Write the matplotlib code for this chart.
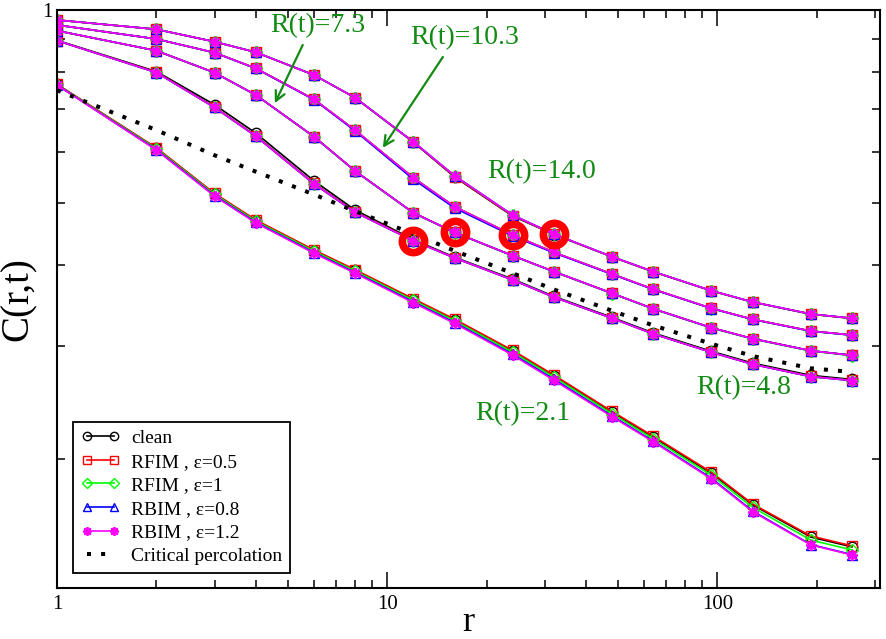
import matplotlib
matplotlib.use("Agg")
import matplotlib.pyplot as plt
from matplotlib.ticker import LogLocator, NullFormatter, FixedLocator, FixedFormatter

plt.rcParams['font.family'] = ['Liberation Serif', 'DejaVu Serif']

# ---------------- data ----------------
r = [1, 2, 3, 4, 6, 8, 12, 16, 24, 32, 48, 64, 96, 128, 192, 256]

# R(t)=2.1
g21_clean  = [0.766, 0.609, 0.517, 0.470, 0.422, 0.393, 0.354, 0.329, 0.294, 0.269, 0.2362, 0.2160, 0.1898, 0.1695, 0.1510, 0.1458]
g21_rfim05 = [0.766, 0.610, 0.518, 0.471, 0.423, 0.394, 0.355, 0.330, 0.295, 0.270, 0.2370, 0.2168, 0.1905, 0.1700, 0.1516, 0.1463]
g21_rfim1  = [0.765, 0.608, 0.516, 0.469, 0.421, 0.392, 0.353, 0.328, 0.293, 0.268, 0.2350, 0.2148, 0.1885, 0.1680, 0.1494, 0.1442]
g21_rbim08 = [0.764, 0.606, 0.514, 0.467, 0.419, 0.390, 0.351, 0.326, 0.291, 0.266, 0.2332, 0.2130, 0.1865, 0.1658, 0.1470, 0.1418]
g21_rbim12 = [0.764, 0.605, 0.513, 0.466, 0.418, 0.389, 0.350, 0.325, 0.290, 0.265, 0.2325, 0.2125, 0.1860, 0.1654, 0.1468, 0.1416]

# R(t)=4.8
g48_clean  = [0.897, 0.802, 0.712, 0.643, 0.542, 0.488, 0.439, 0.412, 0.381, 0.358, 0.332, 0.314, 0.294, 0.2818, 0.2697, 0.2658]
g48_rfim05 = [0.896, 0.800, 0.706, 0.637, 0.537, 0.485, 0.438, 0.411, 0.380, 0.357, 0.331, 0.313, 0.293, 0.2808, 0.2687, 0.2649]
g48_rfim1  = [0.896, 0.799, 0.705, 0.636, 0.536, 0.484, 0.437, 0.411, 0.380, 0.357, 0.331, 0.313, 0.293, 0.2806, 0.2685, 0.2647]
g48_rbim08 = [0.896, 0.799, 0.705, 0.636, 0.536, 0.484, 0.437, 0.411, 0.3797, 0.357, 0.331, 0.3129, 0.2929, 0.2806, 0.2685, 0.2647]
g48_rbim12 = [0.896, 0.799, 0.705, 0.636, 0.536, 0.484, 0.437, 0.411, 0.3797, 0.357, 0.331, 0.3129, 0.2929, 0.2806, 0.2685, 0.2647]

# R(t)=7.3
g73_clean  = [0.9285, 0.8642, 0.7988, 0.7374, 0.6350, 0.5613, 0.4832, 0.4504, 0.4143, 0.3913, 0.3620, 0.3424, 0.3199, 0.3076, 0.2946, 0.2898]
g73_rfim05 = [0.9285, 0.8642, 0.7988, 0.7374, 0.6350, 0.5613, 0.4832, 0.4504, 0.4143, 0.3913, 0.3620, 0.3424, 0.3199, 0.3076, 0.2946, 0.2898]
g73_rfim1  = [0.9285, 0.8640, 0.7985, 0.7370, 0.6345, 0.5608, 0.4828, 0.4500, 0.4140, 0.3910, 0.3617, 0.3421, 0.3196, 0.3073, 0.2943, 0.2895]
g73_rbim08 = [0.9285, 0.8642, 0.7988, 0.7374, 0.6350, 0.5613, 0.4832, 0.4504, 0.4143, 0.3913, 0.3620, 0.3424, 0.3199, 0.3076, 0.2946, 0.2898]
g73_rbim12 = [0.9285, 0.8642, 0.7988, 0.7374, 0.6350, 0.5613, 0.4832, 0.4504, 0.4143, 0.3913, 0.3620, 0.3424, 0.3199, 0.3076, 0.2946, 0.2898]

# R(t)=10.3
g103_clean  = [0.9476, 0.9012, 0.8582, 0.8113, 0.7261, 0.6497, 0.5480, 0.4940, 0.4462, 0.4194, 0.3880, 0.3673, 0.3430, 0.3298, 0.3162, 0.3117]
g103_rfim05 = [0.9476, 0.9012, 0.8582, 0.8113, 0.7261, 0.6497, 0.5480, 0.4940, 0.4462, 0.4194, 0.3880, 0.3673, 0.3430, 0.3298, 0.3162, 0.3117]
g103_rfim1  = [0.9476, 0.9010, 0.8580, 0.8110, 0.7257, 0.6493, 0.5476, 0.4937, 0.4459, 0.4192, 0.3878, 0.3671, 0.3428, 0.3296, 0.3160, 0.3115]
g103_rbim08 = [0.9476, 0.9012, 0.8580, 0.8108, 0.7250, 0.6480, 0.5450, 0.4915, 0.4445, 0.4185, 0.3875, 0.3670, 0.3428, 0.3296, 0.3160, 0.3115]
g103_rbim12 = [0.9476, 0.9012, 0.8582, 0.8113, 0.7261, 0.6497, 0.5480, 0.4940, 0.4462, 0.4194, 0.3880, 0.3673, 0.3430, 0.3298, 0.3162, 0.3117]

# R(t)=14.0
g140_clean  = [0.9648, 0.9331, 0.8925, 0.8594, 0.7921, 0.7300, 0.6225, 0.5495, 0.4775, 0.4470, 0.4125, 0.3910, 0.3652, 0.3507, 0.3359, 0.3308]
g140_rfim05 = [0.9648, 0.9331, 0.8925, 0.8594, 0.7921, 0.7300, 0.6228, 0.5500, 0.4780, 0.4472, 0.4126, 0.3911, 0.3653, 0.3508, 0.3360, 0.3309]
g140_rfim1  = [0.9648, 0.9331, 0.8925, 0.8594, 0.7921, 0.7300, 0.6232, 0.5515, 0.4790, 0.4475, 0.4127, 0.3912, 0.3653, 0.3508, 0.3360, 0.3309]
g140_rbim08 = [0.9648, 0.9331, 0.8925, 0.8594, 0.7921, 0.7300, 0.6234, 0.5519, 0.4793, 0.4477, 0.4128, 0.3913, 0.3654, 0.3509, 0.3361, 0.3310]
g140_rbim12 = [0.9648, 0.9331, 0.8925, 0.8594, 0.7921, 0.7300, 0.6234, 0.5519, 0.4793, 0.4477, 0.4128, 0.3913, 0.3654, 0.3509, 0.3361, 0.3310]

# Critical percolation
perc = [0.750, 0.650, 0.594, 0.560, 0.516, 0.486, 0.448, 0.4216, 0.389, 0.367, 0.340, 0.3226, 0.302, 0.289, 0.2766, 0.273]

series_labels = ["clean", "RFIM , ε=0.5", "RFIM , ε=1", "RBIM , ε=0.8", "RBIM , ε=1.2"]
group_labels = ["R(t)=2.1", "R(t)=4.8", "R(t)=7.3", "R(t)=10.3", "R(t)=14.0"]

groups = {
    "clean":  [g21_clean,  g48_clean,  g73_clean,  g103_clean,  g140_clean],
    "rfim05": [g21_rfim05, g48_rfim05, g73_rfim05, g103_rfim05, g140_rfim05],
    "rfim1":  [g21_rfim1,  g48_rfim1,  g73_rfim1,  g103_rfim1,  g140_rfim1],
    "rbim08": [g21_rbim08, g48_rbim08, g73_rbim08, g103_rbim08, g140_rbim08],
    "rbim12": [g21_rbim12, g48_rbim12, g73_rbim12, g103_rbim12, g140_rbim12],
}

# highlighted points: (group index, r value)
highlight = [(1, 12), (2, 16), (3, 24), (4, 32)]

# ---------------- styles ----------------
styles = {
    "clean":  dict(color="#000000", marker="o", ms=7.5, mew=1.0),
    "rfim05": dict(color="#ff0000", marker="s", ms=7.0, mew=1.0),
    "rfim1":  dict(color="#00ff00", marker="D", ms=6.0, mew=1.0),
    "rbim08": dict(color="#0000ff", marker="^", ms=7.5, mew=1.0),
    "rbim12": dict(color="#ff00ff", marker=(8, 2, 0), ms=8.0, mew=1.3),
}
keys = ["clean", "rfim05", "rfim1", "rbim08", "rbim12"]
green = "#138a13"

fig = plt.figure(figsize=(8.86, 6.39), dpi=100)
ax = fig.add_axes([57 / 886, 1 - 588 / 639, (880 - 57) / 886, (588 - 10) / 639])
ax.set_xscale("log")
ax.set_yscale("log")

for k, lab in zip(keys, series_labels):
    st = styles[k]
    for i, ys in enumerate(groups[k]):
        ax.plot(r, ys, color=st["color"], lw=1.2, marker=st["marker"], ms=st["ms"],
                mfc="none" if k != "rbim12" else st["color"], mec=st["color"], mew=st["mew"],
                label=lab if i == 0 else None)

ax.plot(r, perc, color="black", lw=2.9, linestyle=(0, (1, 2.5)), label="Critical percolation")

hx = [rv for gi, rv in highlight]
hy = [groups["rbim12"][gi][r.index(rv)] for gi, rv in highlight]
ax.plot(hx, hy, linestyle="none", marker="o", ms=16, mfc="none", mec="#ff0000", mew=5.5)

ax.set_xlim(1, 311)
ax.set_ylim(0.1258, 1.0)

# ticks
ax.set_xticks([1, 10, 100])
ax.set_xticklabels(["1", "10", "100"])
ax.xaxis.set_minor_locator(LogLocator(base=10, subs=range(2, 10), numticks=10))
ax.xaxis.set_minor_formatter(NullFormatter())
ax.yaxis.set_major_locator(FixedLocator([0.1, 1.0]))
ax.yaxis.set_major_formatter(FixedFormatter(["0.1", "1"]))
ax.yaxis.set_minor_locator(LogLocator(base=10, subs=range(2, 10), numticks=10))
ax.yaxis.set_minor_formatter(NullFormatter())
ax.tick_params(which="both", direction="in", top=True, right=True, width=1.1, labelsize=15)
ax.tick_params(which="major", length=11.5)
ax.tick_params(which="minor", length=5.8)
ax.tick_params(axis="x", pad=5)
ax.tick_params(axis="y", pad=3)
for s in ax.spines.values():
    s.set_linewidth(1.5)

ax.set_xlabel("r", fontsize=26, labelpad=-6)
ax.set_ylabel("C(r,t)", fontsize=28, labelpad=4)

# annotations
txt_kw = dict(color=green, fontsize=20, ha="center", va="center")
ax.text(6.17, 0.945, group_labels[2], **txt_kw)
ax.text(17.14, 0.9045, group_labels[3], **txt_kw)
ax.text(29.4, 0.5595, group_labels[4], **txt_kw)
ax.text(120.1, 0.2577, group_labels[1], **txt_kw)
ax.text(25.7, 0.2348, group_labels[0], **txt_kw)
arr = dict(arrowstyle="->,head_length=0.7,head_width=0.35", color=green, lw=1.6, shrinkA=0, shrinkB=0)
ax.annotate("", xy=(4.57, 0.716), xytext=(5.55, 0.882), arrowprops=arr)
ax.annotate("", xy=(9.70, 0.610), xytext=(14.75, 0.845), arrowprops=arr)

leg = ax.legend(loc="lower left", bbox_to_anchor=(0.0194, 0.026), borderaxespad=0,
                fontsize=14, numpoints=2, handlelength=2.0, markerscale=0.8,
                fancybox=False, framealpha=1, edgecolor="black",
                labelspacing=0.31, handletextpad=0.6, borderpad=0.4)
leg.get_frame().set_linewidth(1.3)

fig.savefig("out.png", dpi=100)
